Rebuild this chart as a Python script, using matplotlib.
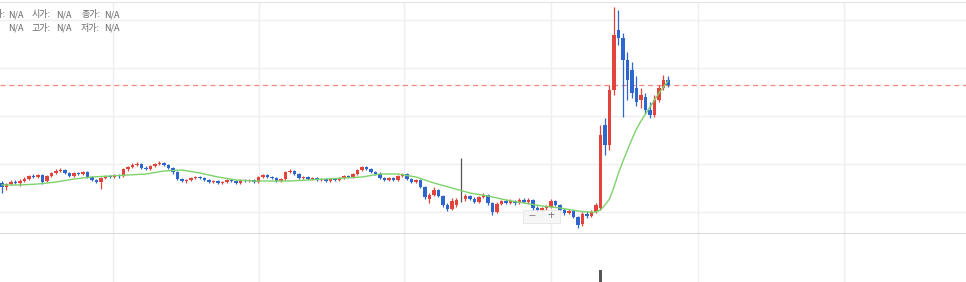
import numpy as np
import matplotlib.pyplot as plt
from matplotlib.patches import Rectangle

plt.rcParams['font.family'] = ['Noto Sans CJK KR', 'DejaVu Sans']

# daily candles (price units)
opens = [1925, 1825, 1900, 1950, 1925, 1975, 2025, 2100, 2075, 2125,
         1975, 2100, 2175, 2225, 2250, 2175, 2100, 2175, 2150, 2200,
         2075, 2000, 1950, 2050, 2100, 2075, 2125, 2100, 2275, 2325,
         2375, 2400, 2300, 2275, 2350, 2400, 2425, 2375, 2300, 2200,
         2025, 1975, 2000, 2050, 2075, 2050, 2000, 1950, 1975, 1925,
         1950, 2000, 1975, 1925, 2000, 1975, 2000, 1950, 2075, 2125,
         2075, 2050, 1975, 2025, 2200, 2225, 2150, 2050, 2075, 2025,
         2050, 2000, 2025, 1975, 2025, 2000, 2050, 2100, 2075, 2150,
         2250, 2325, 2275, 2200, 2150, 2050, 2000, 2050, 2000, 2100,
         2150, 2025, 1950, 2000, 1825, 1525, 1625, 1750, 1600, 1375,
         1275, 1375, 1525, 1525, 1600, 1525, 1450, 1575, 1625, 1425,
         1200, 1400, 1475, 1425, 1475, 1425, 1500, 1450, 1500, 1300,
         1250, 1300, 1325, 1475, 1375, 1250, 1175, 1225, 1075, 900,
         1150, 1100, 1200, 1300, 3375, 2875, 4250, 5750, 5550, 5000,
         4750, 4300, 4000, 4075, 3750, 3625, 4000, 4300, 4500]
highs = [1975, 1925, 2000, 2000, 2025, 2075, 2125, 2150, 2150, 2150,
         2125, 2200, 2275, 2300, 2275, 2200, 2200, 2200, 2225, 2225,
         2100, 2025, 2075, 2125, 2125, 2150, 2150, 2300, 2350, 2425,
         2450, 2425, 2350, 2375, 2425, 2475, 2450, 2400, 2325, 2225,
         2050, 2025, 2075, 2100, 2100, 2075, 2025, 2000, 2000, 1975,
         2025, 2025, 2000, 2025, 2025, 2025, 2025, 2100, 2150, 2150,
         2100, 2075, 2050, 2225, 2275, 2250, 2175, 2100, 2100, 2075,
         2075, 2050, 2050, 2050, 2050, 2075, 2125, 2125, 2175, 2275,
         2350, 2350, 2300, 2225, 2200, 2075, 2075, 2075, 2125, 2175,
         2175, 2050, 2025, 2025, 1850, 1675, 1825, 1775, 1625, 1425,
         1550, 1550, 2550, 1650, 1625, 1575, 1600, 1675, 1650, 1450,
         1450, 1500, 1525, 1525, 1500, 1550, 1550, 1550, 1525, 1350,
         1325, 1375, 1525, 1500, 1400, 1300, 1275, 1250, 1100, 1200,
         1225, 1250, 1425, 3375, 3550, 4375, 6325, 6250, 5675, 5200,
         4950, 4600, 4300, 4175, 3950, 4125, 4375, 4625, 4600]
lows = [1675, 1750, 1875, 1900, 1850, 1950, 2000, 2050, 2050, 1900,
        1950, 2075, 2150, 2200, 2150, 2075, 2075, 2125, 2125, 2050,
        1975, 1925, 1775, 2025, 2050, 2050, 2050, 2075, 2225, 2300,
        2350, 2275, 2250, 2250, 2325, 2375, 2350, 2275, 2150, 2000,
        1950, 1925, 1975, 2025, 2025, 1975, 1925, 1925, 1900, 1900,
        1925, 1950, 1900, 1900, 1950, 1950, 1925, 1925, 2050, 2050,
        2025, 1950, 1950, 2000, 2175, 2125, 2025, 2025, 2000, 2000,
        1975, 1975, 1950, 1950, 1975, 1975, 2025, 2050, 2050, 2125,
        2225, 2250, 2175, 2125, 2025, 1975, 1975, 1975, 1975, 2075,
        2000, 1925, 1925, 1800, 1525, 1425, 1600, 1575, 1325, 1225,
        1250, 1325, 1450, 1475, 1500, 1425, 1425, 1550, 1375, 1125,
        1175, 1375, 1400, 1400, 1375, 1400, 1425, 1400, 1250, 1200,
        1200, 1250, 1300, 1350, 1225, 1125, 1150, 1050, 800, 850,
        1050, 1075, 1175, 1250, 2625, 2750, 4125, 5375, 3575, 4000,
        4050, 3850, 3800, 3650, 3550, 3575, 3950, 4250, 4325]
closes = [1825, 1900, 1950, 1925, 1975, 2025, 2100, 2075, 2125, 1950,
          2100, 2175, 2225, 2250, 2175, 2100, 2175, 2150, 2200, 2075,
          2000, 1950, 2050, 2100, 2075, 2125, 2100, 2275, 2325, 2375,
          2400, 2300, 2275, 2350, 2400, 2425, 2375, 2300, 2200, 2025,
          1975, 2000, 2050, 2075, 2050, 2000, 1950, 1975, 1925, 1950,
          2000, 1975, 1925, 2000, 1975, 2000, 1950, 2075, 2125, 2075,
          2050, 1975, 2025, 2200, 2225, 2150, 2050, 2075, 2025, 2050,
          2000, 2025, 1975, 2025, 2000, 2050, 2100, 2075, 2150, 2250,
          2325, 2275, 2200, 2150, 2050, 2000, 2050, 2000, 2100, 2150,
          2025, 1950, 2000, 1825, 1575, 1625, 1750, 1600, 1375, 1275,
          1475, 1500, 1525, 1600, 1525, 1450, 1575, 1625, 1425, 1200,
          1400, 1475, 1425, 1475, 1425, 1500, 1450, 1500, 1300, 1250,
          1300, 1325, 1475, 1375, 1250, 1175, 1225, 1075, 875, 1150,
          1100, 1200, 1375, 3125, 2875, 4250, 5625, 5550, 5000, 4500,
          4175, 3950, 4125, 3750, 3625, 4000, 4300, 4500, 4375]

# moving average line (green)
ma_idx = [0, 4, 8, 12, 16, 20, 24, 28, 32, 36, 40, 44, 48, 52, 56, 60, 64,
          68, 72, 76, 80, 84, 88, 92, 96, 100, 104, 108, 112, 116, 120, 124,
          128, 130, 132, 133, 134, 135, 136, 137, 138, 139, 140, 141, 142,
          143, 144, 145, 146, 147, 148]
ma_vals = [1875, 1875, 1900, 1950, 2025, 2075, 2100, 2125, 2150, 2225, 2250,
           2175, 2075, 2000, 1975, 1975, 1975, 2000, 2025, 2050, 2075, 2150,
           2150, 2075, 1925, 1800, 1675, 1600, 1500, 1425, 1350, 1300, 1225,
           1200, 1200, 1250, 1375, 1525, 1825, 2175, 2475, 2750, 3025, 3275,
           3475, 3650, 3825, 4000, 4175, 4325, 4475]

# only visible volume bar
vol_idx = [133]
vol_vals = [18500000]

info_rows = [('일자:', '시가:', '종가:'), ('', '고가:', '저가:')]

RED = '#e2433b'
BLUE = '#2e66d0'
DOJI = '#555555'
GRID = '#efefef'

W, H = 966, 282
fig = plt.figure(figsize=(W / 100, H / 100), dpi=100)
fig.patch.set_facecolor('white')

ax = fig.add_axes([0, 48 / H, 1, 232 / H])
axv = fig.add_axes([0, 0, 1, 48 / H])

o = np.array(opens, dtype=float)
h = np.array(highs, dtype=float)
l = np.array(lows, dtype=float)
c = np.array(closes, dtype=float)
idx = np.arange(len(c))
colors = np.where(c > o, RED, np.where(c < o, BLUE, DOJI))

ax.vlines(idx, l, h, colors=colors, lw=0.9, zorder=3)
ax.bar(idx, np.abs(c - o), bottom=np.minimum(o, c), width=0.75,
       color=colors, lw=0, zorder=4)
ax.plot(ma_idx, ma_vals, color='#7dd36a', lw=1.0, zorder=5)
ax.axhline(closes[-1], color='#f0877c', lw=0.9, ls=(0, (4, 3)), zorder=2)

xlim = (-2 / 4.5, 964 / 4.5)
grid_x = [24.67, 57.11, 89.33, 122.0, 154.67, 187.11]

ax.set_xlim(*xlim)
ax.set_ylim(6500 - 25 * 234, 6500 - 25 * 2)
ax.set_xticks(grid_x)
ax.set_yticks([1200, 2400, 3600, 4800, 6000])
ax.grid(True, color=GRID, lw=1, zorder=0)
ax.tick_params(length=0, labelbottom=False, labelleft=False)
for side in ('left', 'right'):
    ax.spines[side].set_visible(False)
ax.spines['top'].set_color('#e4e4e4')
ax.spines['bottom'].set_color('#d2d2d2')
ax.spines['bottom'].set_linewidth(1.2)

axv.bar(vol_idx, vol_vals, width=0.6, color='#555555', lw=0)
axv.set_xlim(*xlim)
axv.set_ylim(0, 74000000)
axv.set_xticks(grid_x)
axv.set_yticks([])
axv.grid(True, axis='x', color=GRID, lw=1, zorder=0)
axv.tick_params(length=0, labelbottom=False, labelleft=False)
for s in axv.spines.values():
    s.set_visible(False)

# OHLC info box at top left (first label is cut by the left edge)
for r, row in enumerate(info_rows):
    y = 1 - (15 + 13 * r) / H
    if row[0]:
        fig.text(5.5 / W, y, row[0], ha='right', va='center',
                 fontsize=6.5, color='#666666')
    for k, lab in enumerate(row):
        if k > 0:
            fig.text((32 + 49 * (k - 1)) / W, y, lab, ha='left', va='center',
                     fontsize=6.5, color='#666666')
        fig.text((8 + 48 * k) / W, y, 'N/A', ha='left', va='center',
                 fontsize=6.5, color='#666666')

# zoom buttons overlay
fig.patches.append(Rectangle((523 / W, 1 - 223 / H), 37 / W, 13 / H,
                             transform=fig.transFigure, facecolor='#f5f5f5',
                             edgecolor='#e2e2e2', lw=0.6, alpha=0.85, zorder=10))
fig.text(532 / W, 1 - 216 / H, '−', ha='center', va='center', fontsize=9,
         color='#808080', zorder=11)
fig.text(551 / W, 1 - 216 / H, '+', ha='center', va='center', fontsize=9,
         color='#808080', zorder=11)

fig.savefig('out.png', dpi=100, facecolor='white')
